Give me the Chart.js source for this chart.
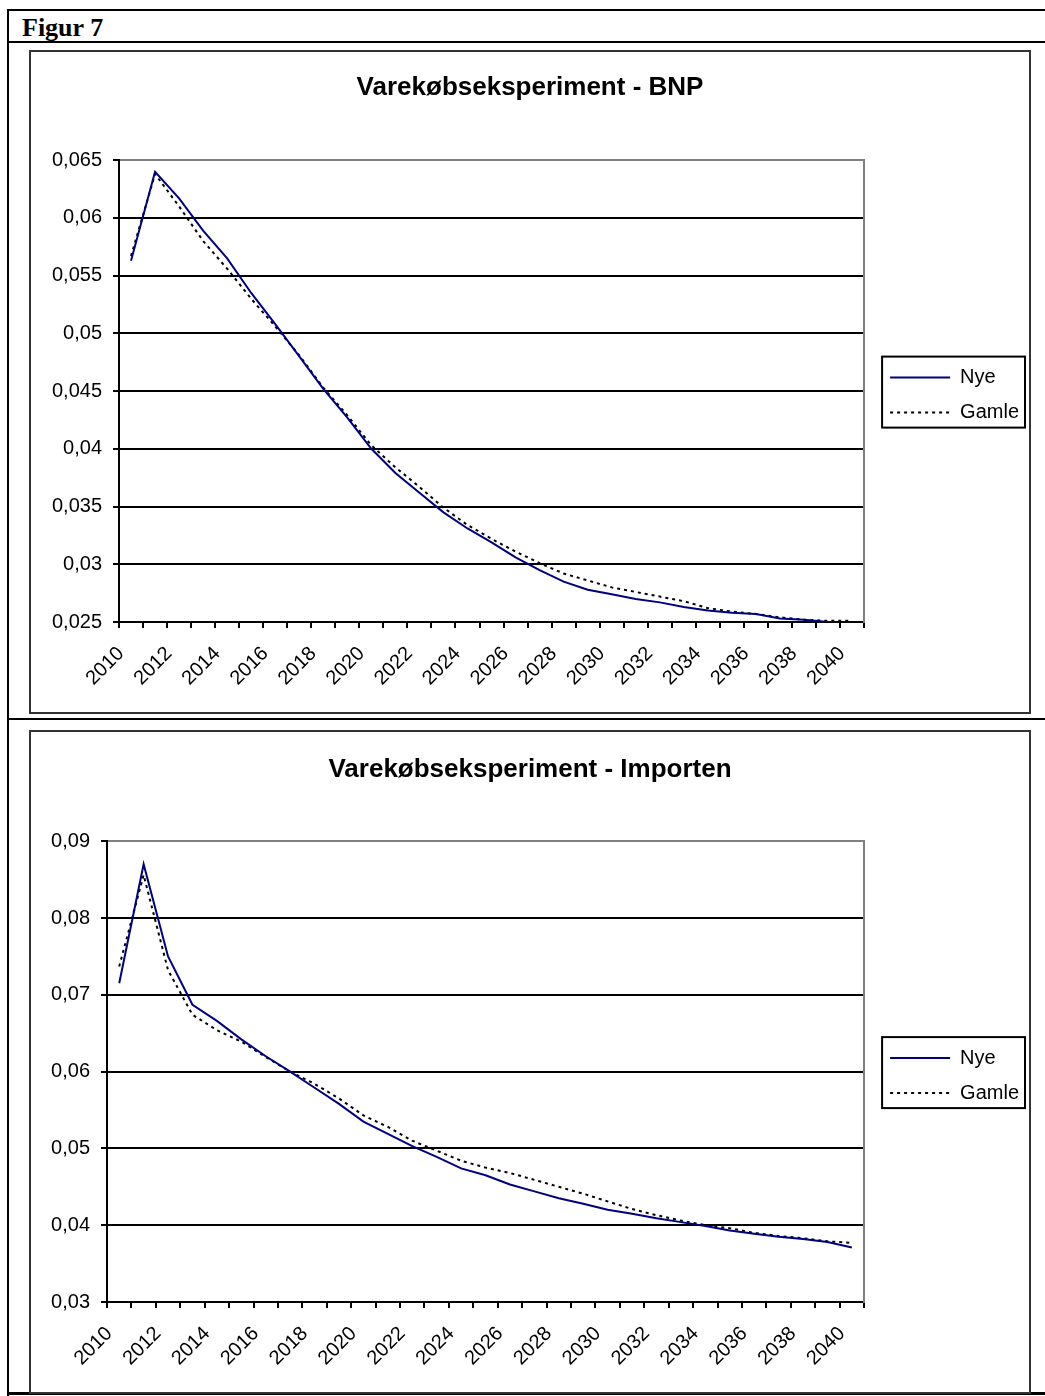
<!DOCTYPE html>
<html>
<head>
<meta charset="utf-8">
<script src="https://cdn.jsdelivr.net/npm/chart.js@4.4.1/dist/chart.umd.min.js"></script>
<style>
    body { margin: 0; background: #fff; width: 1045px; height: 1396px; position: relative; overflow: hidden; }
    .ln { position: absolute; background: #000; }
    #hdr { position: absolute; left: 22px; top: 13px; line-height: 26px; font: bold 26px "Liberation Serif", "Times New Roman", serif; }
    .box { position: absolute; border: 2px solid #333; box-sizing: border-box; }
    .box canvas { position: absolute; left: 0; top: 0; }
</style>
</head>
<body>
<div class="ln" style="left:7px;top:9px;width:1038px;height:2px"></div>
<div class="ln" style="left:7px;top:9px;width:2px;height:1387px"></div>
<div class="ln" style="left:7px;top:41px;width:1038px;height:2px"></div>
<div class="ln" style="left:7px;top:718px;width:1038px;height:2px"></div>
<div class="ln" style="left:7px;top:1392px;width:1038px;height:3px"></div>
<div id="hdr">Figur 7</div>
<div class="box" style="left:29px;top:50px;width:1002px;height:664px"><canvas id="bnpChart" width="998" height="660"></canvas></div>
<div class="box" style="left:29px;top:730px;width:1002px;height:664px"><canvas id="importChart" width="998" height="660"></canvas></div>

<script>
const years = ['2010', '2011', '2012', '2013', '2014', '2015', '2016', '2017', '2018', '2019',
    '2020', '2021', '2022', '2023', '2024', '2025', '2026', '2027', '2028', '2029',
    '2030', '2031', '2032', '2033', '2034', '2035', '2036', '2037', '2038', '2039', '2040'];
const xTickLabels = ['2010', '', '2012', '', '2014', '', '2016', '', '2018', '',
    '2020', '', '2022', '', '2024', '', '2026', '', '2028', '',
    '2030', '', '2032', '', '2034', '', '2036', '', '2038', '', '2040'];

// BNP
const bnpNye = [0.0563, 0.0640, 0.0617, 0.0589, 0.0565, 0.0535, 0.0508, 0.0480, 0.0452, 0.0427,
    0.0400, 0.0379, 0.0362, 0.0345, 0.0331, 0.0319, 0.0306, 0.0295, 0.0285, 0.0278,
    0.0274, 0.0270, 0.0267, 0.0263, 0.0260, 0.0258, 0.0257, 0.0253, 0.0252, 0.0250, 0.0249];
const bnpGamle = [0.0567, 0.0638, 0.0610, 0.0580, 0.0556, 0.0530, 0.0506, 0.0481, 0.0453, 0.0429,
    0.0403, 0.0384, 0.0367, 0.0349, 0.0334, 0.0322, 0.0311, 0.0301, 0.0292, 0.0286,
    0.0280, 0.0276, 0.0272, 0.0268, 0.0262, 0.0259, 0.0257, 0.0254, 0.0252, 0.0251, 0.0251];
const bnpTicks = [0.025, 0.03, 0.035, 0.04, 0.045, 0.05, 0.055, 0.06, 0.065];

// Importen
const impNye = [0.0715, 0.0870, 0.0750, 0.0687, 0.0666, 0.0642, 0.0620, 0.0600, 0.0579, 0.0558,
    0.0535, 0.0519, 0.0503, 0.0489, 0.0474, 0.0465, 0.0453, 0.0444, 0.0435, 0.0428,
    0.0420, 0.0415, 0.0409, 0.0404, 0.0399, 0.0393, 0.0389, 0.0385, 0.0382, 0.0378, 0.0371];
const impGamle = [0.0737, 0.0856, 0.0732, 0.0674, 0.0654, 0.0639, 0.0619, 0.0600, 0.0584, 0.0565,
    0.0543, 0.0528, 0.0510, 0.0497, 0.0484, 0.0475, 0.0468, 0.0459, 0.0450, 0.0441,
    0.0431, 0.0421, 0.0413, 0.0406, 0.0400, 0.0396, 0.0390, 0.0386, 0.0383, 0.0379, 0.0377];
const impTicks = [0.03, 0.04, 0.05, 0.06, 0.07, 0.08, 0.09];

Chart.defaults.font.family = '"Liberation Sans", Arial, sans-serif';
Chart.defaults.color = '#000';

// frame round the legend, like the Excel legend box
const legendFrame = {
    id: 'legendFrame',
    afterDraw(chart) {
        const boxes = chart.legend.legendHitBoxes;
        if (!boxes || !boxes.length) return;
        const ctx = chart.ctx;
        const left = boxes[0].left - 8;
        const right = Math.max(...boxes.map(b => b.left + b.width)) + 6;
        const top = boxes[0].top - 11;
        const last = boxes[boxes.length - 1];
        const bottom = last.top + last.height + 5;
        ctx.save();
        ctx.strokeStyle = '#000';
        ctx.lineWidth = 2;
        ctx.strokeRect(left, top, right - left, bottom - top);
        ctx.restore();
    }
};

function fmtComma(v) {
    return String(parseFloat(v.toFixed(3))).replace('.', ',');
}

function makeChart(id, title, nye, gamle, yTicks, yAxisWidth, titlePad) {
    const yMin = yTicks[0];
    const yMax = yTicks[yTicks.length - 1];
    return new Chart(document.getElementById(id).getContext('2d'), {
        type: 'line',
        data: {
            labels: years,
            datasets: [
                {
                    label: 'Nye',
                    data: nye,
                    borderColor: '#000080', // navy
                    borderWidth: 2,
                    pointRadius: 0,
                    tension: 0,
                },
                {
                    label: 'Gamle',
                    data: gamle,
                    borderColor: '#000',
                    borderWidth: 2,
                    borderDash: [3, 4],
                    pointRadius: 0,
                    tension: 0,
                }
            ]
        },
        options: {
            responsive: false,
            animation: false,
            devicePixelRatio: 1,
            layout: { padding: 0 },
            plugins: {
                title: {
                    display: true,
                    text: title,
                    color: '#000',
                    font: { size: 26, weight: 'bold' },
                    padding: titlePad,
                },
                legend: {
                    position: 'right',
                    fullSize: false,
                    // empty title only nudges the items down a little
                    title: { display: true, text: '', font: { size: 5 }, padding: 1 },
                    labels: {
                        usePointStyle: true,
                        pointStyle: 'line',
                        pointStyleWidth: 60,
                        padding: 15,
                        color: '#000',
                        font: { size: 20 },
                        generateLabels: function(chart) {
                            const items = Chart.defaults.plugins.legend.labels.generateLabels(chart);
                            items.forEach(item => {
                                const ds = chart.data.datasets[item.datasetIndex];
                                item.lineDash = ds.borderDash || [];
                                item.lineWidth = 2;
                                item.strokeStyle = ds.borderColor;
                            });
                            return items;
                        }
                    }
                },
                tooltip: { enabled: false }
            },
            scales: {
                x: {
                    offset: true,
                    grid: {
                        offset: true,
                        drawOnChartArea: false,
                        drawTicks: true,
                        tickLength: 6,
                        color: '#000',
                        lineWidth: 2,
                    },
                    border: { display: true, color: '#000', width: 2 },
                    ticks: {
                        autoSkip: false,
                        maxRotation: 45,
                        minRotation: 45,
                        padding: 14,
                        labelOffset: -10,
                        color: '#000',
                        font: { size: 20 },
                        callback: function(value, index) {
                            return xTickLabels[index];
                        }
                    },
                    afterFit: function(scale) {
                        scale.height = 90;
                    }
                },
                y: {
                    min: yMin,
                    max: yMax,
                    afterBuildTicks: function(scale) {
                        scale.ticks = yTicks.map(v => ({ value: v }));
                    },
                    grid: {
                        color: function(ctx) {
                            return ctx.tick && ctx.tick.value === yMax ? '#808080' : '#000';
                        },
                        tickColor: '#000',
                        lineWidth: 2,
                        tickLength: 6,
                    },
                    border: { display: true, color: '#000', width: 2 },
                    ticks: {
                        padding: 11,
                        color: '#000',
                        font: { size: 20 },
                        callback: function(value) {
                            return fmtComma(value);
                        }
                    },
                    afterFit: function(scale) {
                        scale.width = yAxisWidth;
                    }
                },
                // empty axis: gives the grey right edge of the plot and the gap before the legend
                yRight: {
                    position: 'right',
                    display: true,
                    grid: { drawOnChartArea: false, drawTicks: false },
                    border: { display: true, color: '#808080', width: 2 },
                    ticks: { display: false },
                    afterFit: function(scale) {
                        scale.width = 11;
                    }
                }
            }
        },
        plugins: [legendFrame]
    });
}

makeChart('bnpChart', 'Varekøbseksperiment - BNP', bnpNye, bnpGamle, bnpTicks, 88, { top: 20, bottom: 57 });
makeChart('importChart', 'Varekøbseksperiment - Importen', impNye, impGamle, impTicks, 76, { top: 22, bottom: 56 });
</script>
</body>
</html>
